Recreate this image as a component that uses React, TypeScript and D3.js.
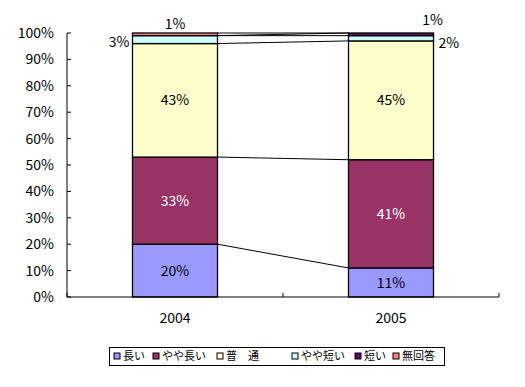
import React from "react";
import * as d3 from "d3";

const years = ["2004", "2005"];
const seriesNames = ["長い", "やや長い", "普　通", "やや短い", "短い", "無回答"];
const seriesColors = ["#9999FF", "#993366", "#FFFFCC", "#CCFFFF", "#660066", "#FF8080"];
const values2004 = [20, 33, 43, 3, 0, 1];
const values2005 = [11, 41, 45, 2, 1, 0];
const yTicks = [0, 10, 20, 30, 40, 50, 60, 70, 80, 90, 100];

const FONT = "'Noto Sans CJK JP', 'DejaVu Sans', sans-serif";

export default function App() {
  const W = 525, H = 387;
  const left = 67, right = 499, top = 33, bottom = 297;
  const y = d3.scaleLinear().domain([0, 100]).range([bottom, top]);
  const x = d3.scaleBand().domain(years).range([left, right]).paddingInner(0).paddingOuter(0);
  const barW = 85;
  const data = [values2004, values2005];
  const stacks = data.map((vals) => {
    let c = 0;
    return vals.map((v) => { const s = c; c += v; return [s, c]; });
  });
  const barX = (i: number) => x(years[i])! + x.bandwidth() / 2 - barW / 2;
  const cx = (i: number) => x(years[i])! + x.bandwidth() / 2;

  // label positions for small segments handled explicitly
  const labelFor = (yi: number, si: number) => {
    const v = data[yi][si];
    if (v === 0) return null;
    const [a, b] = stacks[yi][si];
    const mid = y((a + b) / 2);
    const txt = `${v}%`;
    const fill = si === 1 ? "#fff" : "#000";
    if (v >= 5) {
      return <text key={`l${yi}-${si}`} x={cx(yi)} y={mid} dy="0.36em" textAnchor="middle" fontSize={14} fill={fill} fontFamily={FONT}>{txt}</text>;
    }
    // small segments
    if (yi === 0) {
      if (si === 5) return <text key={`l${yi}-${si}`} x={cx(yi)} y={y(b) - 9} dy="0.36em" textAnchor="middle" fontSize={14} fontFamily={FONT}>{txt}</text>;
      return <text key={`l${yi}-${si}`} x={barX(yi) - 3} y={mid + 2} dy="0.36em" textAnchor="end" fontSize={14} fontFamily={FONT}>{txt}</text>;
    } else {
      if (si === 4) return <text key={`l${yi}-${si}`} x={barX(yi) + barW - 1} y={y(b) - 13} dy="0.36em" textAnchor="middle" fontSize={14} fontFamily={FONT}>{txt}</text>;
      return <text key={`l${yi}-${si}`} x={barX(yi) + barW + 5} y={mid + 5} dy="0.36em" textAnchor="start" fontSize={14} fontFamily={FONT}>{txt}</text>;
    }
  };

  const legendX = [114, 153, 217, 292, 355, 393];

  return (
    <svg width={W} height={H} style={{ position: "absolute", left: 0, top: 0, background: "#fff" }}>
      <rect x={0} y={0} width={W} height={H} fill="#fff" />
      {/* series lines */}
      {seriesNames.map((_, si) => (
        <line key={`sl${si}`} x1={barX(0) + barW} x2={barX(1)} y1={y(stacks[0][si][1])} y2={y(stacks[1][si][1])} stroke="#000" strokeWidth={1} />
      ))}
      {/* bars */}
      {data.map((vals, yi) => vals.map((v, si) => {
        if (v === 0) return null;
        const [a, b] = stacks[yi][si];
        return <rect key={`b${yi}-${si}`} x={barX(yi)} y={y(b)} width={barW} height={y(a) - y(b)} fill={seriesColors[si]} stroke="#000" strokeWidth={1.3} />;
      }))}
      {/* axes */}
      <line x1={left} x2={left} y1={top} y2={bottom} stroke="#000" strokeWidth={1} />
      <line x1={left} x2={right} y1={bottom} y2={bottom} stroke="#000" strokeWidth={1} />
      {yTicks.map((t) => (
        <g key={`yt${t}`}>
          <line x1={left} x2={left + 4} y1={y(t)} y2={y(t)} stroke="#000" />
          <text x={left - 13} y={y(t)} dy="0.36em" textAnchor="end" fontSize={14} fontFamily={FONT}>{`${t}%`}</text>
        </g>
      ))}
      {[left, ...years.map((yr) => x(yr)! + x.bandwidth())].map((p, i) => (
        <line key={`xt${i}`} x1={p} x2={p} y1={bottom} y2={bottom - 4} stroke="#000" />
      ))}
      {years.map((yr, i) => (
        <text key={`xl${yr}`} x={cx(i)} y={318} dy="0.36em" textAnchor="middle" fontSize={14} fontFamily={FONT}>{yr}</text>
      ))}
      {/* labels */}
      {data.map((vals, yi) => vals.map((_, si) => labelFor(yi, si)))}
      {/* legend */}
      <rect x={109.5} y={347.5} width={335} height={18} fill="#fff" stroke="#000" strokeWidth={1} />
      {seriesNames.map((n, si) => (
        <g key={`lg${si}`}>
          <rect x={legendX[si]} y={353} width={6} height={6} fill={seriesColors[si]} stroke="#000" strokeWidth={1} />
          <text x={legendX[si] + 9} y={356.5} dy="0.36em" fontSize={11} fontFamily={FONT}>{n}</text>
        </g>
      ))}
    </svg>
  );
}
